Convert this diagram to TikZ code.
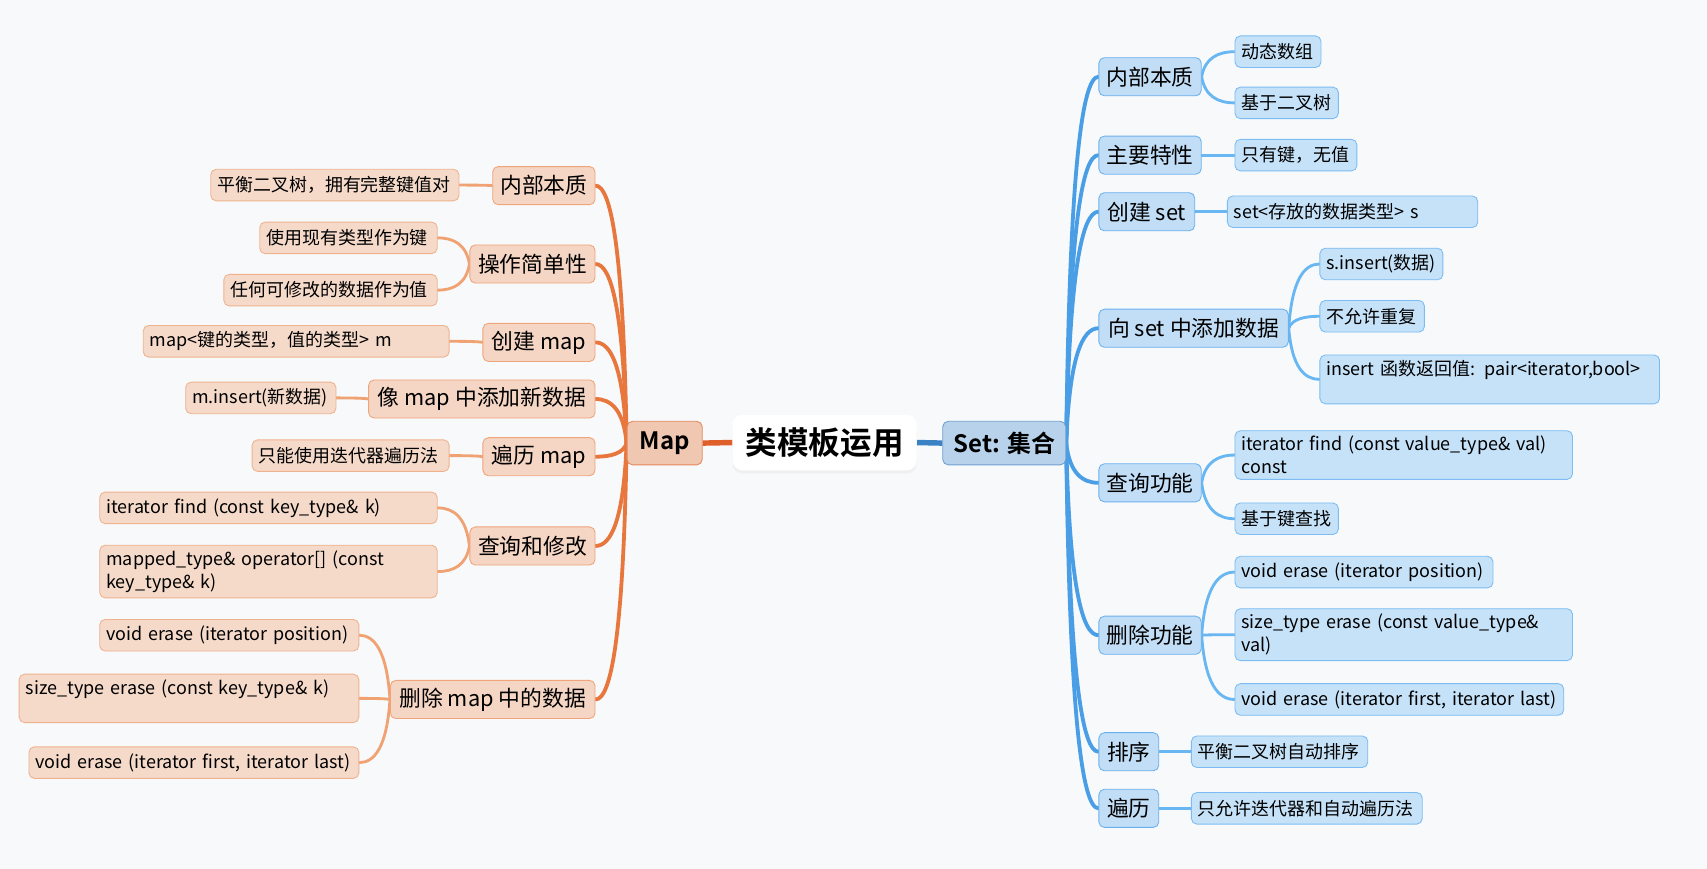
\documentclass[tikz,border=0pt]{standalone}
\usepackage{fontspec}
\setmainfont{Noto Sans CJK SC}[BoldFont={Noto Sans CJK SC Bold}]
\usetikzlibrary{calc, backgrounds, shadows}

\definecolor{bgcol}{HTML}{F7F9FB}
\definecolor{maptopfill}{HTML}{F0C8B2}
\definecolor{maptopdraw}{HTML}{E4875A}
\definecolor{mapsubfill}{HTML}{F5D5C3}
\definecolor{mapsubdraw}{HTML}{EFA47A}
\definecolor{mapleaffill}{HTML}{F5DACA}
\definecolor{mapleafdraw}{HTML}{F0B28E}
\definecolor{maproot}{HTML}{DF5F2A}
\definecolor{mapmain}{HTML}{E8773E}
\definecolor{maptwig}{HTML}{F0A272}
\definecolor{settopfill}{HTML}{B7D2EA}
\definecolor{settopdraw}{HTML}{6F9FCF}
\definecolor{setsubfill}{HTML}{C2DEF6}
\definecolor{setsubdraw}{HTML}{6BB1EE}
\definecolor{setleaffill}{HTML}{C6E2F8}
\definecolor{setleafdraw}{HTML}{7CBCF2}
\definecolor{setroot}{HTML}{3B82C4}
\definecolor{setmain}{HTML}{4A9EE6}
\definecolor{settwig}{HTML}{68B6F2}

\begin{document}
\begin{tikzpicture}[x=1pt, y=-1pt,
    rootbox/.style={fill=white, rounded corners=9pt, minimum width=169pt, minimum height=51pt, font=\fontsize{29}{34}\selectfont\bfseries,
      drop shadow={opacity=0.07, shadow xshift=0pt, shadow yshift=-3pt}},
    topbox/.style={rounded corners=5pt, line width=0.8pt, minimum height=40pt, inner xsep=6pt, font=\fontsize{22}{26}\selectfont\bfseries},
    subbox/.style={rounded corners=5pt, line width=0.8pt, minimum height=35pt, inner xsep=6pt, font=\fontsize{20}{24}\selectfont},
    leaf/.style={rounded corners=5pt, line width=0.8pt, minimum height=29pt, inner xsep=6pt, inner ysep=5pt, align=left, font=\fontsize{16.5}{21}\selectfont},
    maptop/.style={topbox, fill=maptopfill, draw=maptopdraw},
    mapsub/.style={subbox, fill=mapsubfill, draw=mapsubdraw, anchor=east},
    mapleaf/.style={leaf, fill=mapleaffill, draw=mapleafdraw, anchor=east},
    settop/.style={topbox, fill=settopfill, draw=settopdraw},
    setsub/.style={subbox, fill=setsubfill, draw=setsubdraw, anchor=west},
    setleaf/.style={leaf, fill=setleaffill, draw=setleafdraw, anchor=west},
    branch/.style={line cap=round, to path={let \p1=(\tikztostart), \p2=(\tikztotarget) in
      .. controls ({\x1+0.1*(\x2-\x1)},{\y1+0.75*(\y2-\y1)}) and ({\x2+0.5*(\x1-\x2)},\y2) .. (\tikztotarget)}},
    mapline/.style={branch, draw=mapmain, line width=3.5pt},
    maptwigline/.style={branch, draw=maptwig, line width=2.6pt},
    setline/.style={branch, draw=setmain, line width=3.5pt},
    settwigline/.style={branch, draw=settwig, line width=2.6pt}
  ]
  \begin{scope}[on background layer]
    \fill[bgcol] (0,0) rectangle (1568,798);
  \end{scope}
  \useasboundingbox (0,0) rectangle (1568,798);

  \node[rootbox] (root) at (757.5,406.5) {类模板运用};
  \node[maptop, minimum width=69pt] (map) at (610.5,407) {Map};
  \node[settop, minimum width=113pt] (set) at (922.5,407) {Set: 集合};

  % Map side
  \node[mapsub, minimum width=94pt]  (m1) at (547,170.5) {内部本质};
  \node[mapsub, minimum width=115pt] (m2) at (547,242.5) {操作简单性};
  \node[mapsub, minimum width=103pt] (m3) at (547,314.5) {创建 map};
  \node[mapsub, minimum width=208pt] (m4) at (547,366.5) {像 map 中添加新数据};
  \node[mapsub, minimum width=103pt] (m5) at (547,419.5) {遍历 map};
  \node[mapsub, minimum width=115pt] (m6) at (547,501.5) {查询和修改};
  \node[mapsub, minimum width=188pt] (m7) at (547,642.5) {删除 map 中的数据};

  \node[mapleaf, text width=216pt] (a1)  at (422,170)   {平衡二叉树，拥有完整键值对};
  \node[mapleaf, text width=151pt] (a2)  at (402,218.5) {使用现有类型作为键};
  \node[mapleaf, text width=184pt] (a3)  at (402,266.5) {任何可修改的数据作为值};
  \node[mapleaf, text width=269pt] (a4)  at (413,313.5) {map<键的类型，值的类型> m};
  \node[mapleaf, text width=126pt] (a5)  at (309,365.5) {m.insert(新数据)};
  \node[mapleaf, text width=169pt] (a6)  at (413,418.5) {只能使用迭代器遍历法};
  \node[mapleaf, text width=298pt] (a7)  at (402,466.5) {iterator find (const key\_type\& k)};
  \node[mapleaf, text width=298pt] (a8)  at (402,525)   {mapped\_type\& operator[] (const\\key\_type\& k)};
  \node[mapleaf, text width=226pt] (a9)  at (330,583.5) {void erase (iterator position)};
  \node[mapleaf, text width=300pt] (a10) at (330,641.5) {size\_type erase (const key\_type\& k)\\\mbox{}};
  \node[mapleaf, text width=291pt] (a11) at (330,700.5) {void erase (iterator first, iterator last)};

  % Set side
  \node[setsub, minimum width=94pt]  (s1) at (1009,70.5)  {内部本质};
  \node[setsub, minimum width=94pt]  (s2) at (1009,142.5) {主要特性};
  \node[setsub, minimum width=88pt]  (s3) at (1009,194.5) {创建 set};
  \node[setsub, minimum width=174pt] (s4) at (1009,301.5) {向 set 中添加数据};
  \node[setsub, minimum width=94pt]  (s5) at (1009,443.5) {查询功能};
  \node[setsub, minimum width=94pt]  (s6) at (1009,583.5) {删除功能};
  \node[setsub, minimum width=55pt]  (s7) at (1009,690.5) {排序};
  \node[setsub, minimum width=55pt]  (s8) at (1009,742.5) {遍历};

  \node[setleaf, text width=67pt]  (b1)  at (1134,47.5)  {动态数组};
  \node[setleaf, text width=83pt]  (b2)  at (1134,94.5)  {基于二叉树};
  \node[setleaf, text width=100pt] (b3)  at (1134,142.5) {只有键，无值};
  \node[setleaf, text width=218pt] (b4)  at (1127,194.5) {set<存放的数据类型> s};
  \node[setleaf, text width=101pt] (b5)  at (1212,242.5) {s.insert(数据)};
  \node[setleaf, text width=84pt]  (b6)  at (1212,290.5) {不允许重复};
  \node[setleaf, text width=300pt] (b7)  at (1212,348.5) {insert 函数返回值: pair<iterator,bool>\\\mbox{}};
  \node[setleaf, text width=298pt] (b8)  at (1134,418)   {iterator find (const value\_type\& val)\\const};
  \node[setleaf, text width=83pt]  (b9)  at (1134,476.5) {基于键查找};
  \node[setleaf, text width=225pt] (b10) at (1134,525.5) {void erase (iterator position)};
  \node[setleaf, text width=298pt] (b11) at (1134,583)   {size\_type erase (const value\_type\&\\val)};
  \node[setleaf, text width=290pt] (b12) at (1134,642.5) {void erase (iterator first, iterator last)};
  \node[setleaf, text width=150pt] (b13) at (1094,690.5) {平衡二叉树自动排序};
  \node[setleaf, text width=200pt] (b14) at (1094,742.5) {只允许迭代器和自动遍历法};

  \begin{scope}[on background layer]
    \draw[maproot, line width=5pt] (root.west) -- (map.east);
    \draw[setroot, line width=5pt] (root.east) -- (set.west);
    \draw[mapline] (map.west) to (m1.east);
    \draw[mapline] (map.west) to (m2.east);
    \draw[mapline] (map.west) to (m3.east);
    \draw[mapline] (map.west) to (m4.east);
    \draw[mapline] (map.west) to (m5.east);
    \draw[mapline] (map.west) to (m6.east);
    \draw[mapline] (map.west) to (m7.east);
    \draw[maptwigline] (m1.west) to (a1.east);
    \draw[maptwigline] (m2.west) to (a2.east);
    \draw[maptwigline] (m2.west) to (a3.east);
    \draw[maptwigline] (m3.west) to (a4.east);
    \draw[maptwigline] (m4.west) to (a5.east);
    \draw[maptwigline] (m5.west) to (a6.east);
    \draw[maptwigline] (m6.west) to (a7.east);
    \draw[maptwigline] (m6.west) to (a8.east);
    \draw[maptwigline] (m7.west) to (a9.east);
    \draw[maptwigline] (m7.west) to (a10.east);
    \draw[maptwigline] (m7.west) to (a11.east);
    \draw[setline] (set.east) to (s1.west);
    \draw[setline] (set.east) to (s2.west);
    \draw[setline] (set.east) to (s3.west);
    \draw[setline] (set.east) to (s4.west);
    \draw[setline] (set.east) to (s5.west);
    \draw[setline] (set.east) to (s6.west);
    \draw[setline] (set.east) to (s7.west);
    \draw[setline] (set.east) to (s8.west);
    \draw[settwigline] (s1.east) to (b1.west);
    \draw[settwigline] (s1.east) to (b2.west);
    \draw[settwigline] (s2.east) to (b3.west);
    \draw[settwigline] (s3.east) to (b4.west);
    \draw[settwigline] (s4.east) to (b5.west);
    \draw[settwigline] (s4.east) to (b6.west);
    \draw[settwigline] (s4.east) to (b7.west);
    \draw[settwigline] (s5.east) to (b8.west);
    \draw[settwigline] (s5.east) to (b9.west);
    \draw[settwigline] (s6.east) to (b10.west);
    \draw[settwigline] (s6.east) to (b11.west);
    \draw[settwigline] (s6.east) to (b12.west);
    \draw[settwigline] (s7.east) to (b13.west);
    \draw[settwigline] (s8.east) to (b14.west);
  \end{scope}
\end{tikzpicture}
\end{document}
